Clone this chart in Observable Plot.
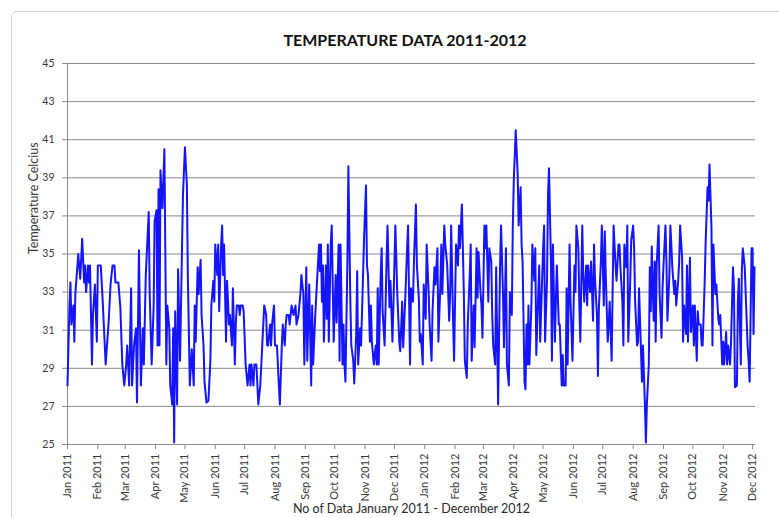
<!DOCTYPE html>
<html>
<head>
<meta charset="utf-8">
<script src="https://cdn.jsdelivr.net/npm/d3@7"></script>
<script src="https://cdn.jsdelivr.net/npm/@observablehq/plot@0.6"></script>
<style>
  body { margin: 0; background: #fff; }
  #wrap { position: relative; width: 779px; height: 518px; overflow: hidden; font-family: Lato, "Open Sans", sans-serif; }
  #frame { position: absolute; left: 11px; top: 11px; width: 820px; height: 560px; border: 1px solid #d4d4d4; border-radius: 6px; }
  #title { position: absolute; top: 30px; left: 0; width: 810px; text-align: center; font-weight: bold; font-size: 16px; color: #111; }
  #chart { position: absolute; left: 0; top: 0; }
</style>
</head>
<body>
<div id="wrap">
  <div id="frame"></div>
  <div id="title"></div>
  <div id="chart"></div>
</div>
<script>
// Day offsets (days since 1 Jan 2011) and temperatures (°C)
const daysA = [0,2,3,4,6,7,8,11,13,15,17,18,19,21,22,23,25,26,28,30,31,34,36,39,42,44,46,48,49,52,54,56,58,60,61,63,65,66,68,70,71,73,75,77,78,80,83,84,86,88,89,91,92,93,94,95,97,99,101,102,104,105,107,108,109,110,112,113];
const tempsA = [28.1,32.3,33.5,31.3,32.3,30.4,32.9,35.0,33.7,35.8,33.5,34.4,33.0,34.4,33.5,34.4,29.2,31.8,33.4,30.4,34.4,34.4,32.5,29.2,31.4,33.4,34.4,34.4,33.5,33.5,32.2,29.2,28.1,29.2,30.2,28.1,33.2,28.1,30.2,31.1,27.2,35.2,28.1,31.1,29.2,33.9,37.2,32.9,29.2,32.2,36.7,37.3,30.2,38.4,30.2,39.4,37.4,40.5,29.2,32.3,31.1,28.1,27.1,31.1,25.1,32.0,27.1,34.2];

const daysB = [115,117,118,120,122,123,125,127,129,130,131,133,134,136,137,139,140,142,144,146,147,149,150,151,153,154,155,157,158,159,160,162,163,164,165,166,168,169,171,172,173,175,176,177,179,180,182,184,186,187,188,190,191,193,195,197,199,201,203,204,205,207,208,209,211,212,214,216,217,219,220,222,223,224,226,227,229,231];
const tempsB = [29.4,35.3,38.1,40.6,38.6,33.7,28.1,30.0,28.1,32.3,30.4,34.3,32.9,34.7,31.8,30.2,28.3,27.2,27.3,29.4,32.3,33.6,32.5,35.5,33.9,35.5,32.0,35.5,36.5,33.9,35.5,30.4,33.6,32.5,31.3,31.8,30.2,33.2,29.2,31.4,32.3,32.3,31.8,32.3,32.3,32.0,29.2,28.1,29.2,28.1,29.2,28.1,29.2,29.2,27.1,28.1,30.2,32.3,31.8,30.2,30.2,31.3,30.2,31.3,32.3,30.2,30.2,28.1,27.1,30.2,31.3,30.2,31.3,31.8,31.8,31.3,32.3,31.8];

const daysC = [233,234,236,238,239,241,242,244,245,247,249,250,251,253,255,257,258,259,260,261,262,264,265,266,267,269,270,272,274,275,277,278,279,281,282,283,284,286,287,289,290,292,293,295,296,297,299,300,302,303,305,306,307,309,310,311,313,315,316,317,318,320,321,322,324,325,326,327,329,330,332,333,335,337,339,340,342,343,345,347,348,350];
const tempsC = [32.3,31.3,31.8,32.9,33.9,32.9,29.2,34.3,29.4,33.4,28.1,32.3,29.2,31.6,33.6,35.5,34.1,35.5,32.5,34.4,30.4,34.4,31.6,35.5,30.4,35.5,36.5,30.4,33.9,31.4,35.5,29.4,35.5,29.2,31.3,29.2,28.3,34.6,39.6,32.5,30.2,29.4,28.2,30.8,34.1,29.2,31.1,30.2,33.9,35.8,38.6,34.4,33.9,30.4,32.3,30.4,29.2,30.2,29.2,33.2,29.2,33.9,35.3,32.0,30.2,32.3,34.6,36.5,32.2,33.6,30.4,32.3,36.5,32.9,30.4,29.9,32.5,30.1,32.5,35.3,36.5,29.2];

const daysD = [351,353,354,356,357,359,360,361,363,364,366,367,369,370,372,373,375,376,378,379,381,382,383,385,386,388,390,391,392,394,395,397,399,400,401,403,405,406,408,409,411,412,413,415,416,418,419,420,422,423,424,426,427,428,430,431,433,434,435,437,438,440,442,443,445,446,448,449,451,452,454,455,456,458,460,461,463,464,465,467];
const tempsD = [33.2,32.5,34.6,37.6,34.4,32.7,30.4,30.8,29.2,33.4,31.6,35.5,33.0,31.3,29.4,32.0,34.3,33.4,35.3,30.4,33.4,35.5,32.9,36.5,35.5,34.4,31.5,32.9,36.5,31.5,29.4,35.5,34.4,36.5,35.3,37.6,32.9,29.4,28.5,31.3,33.9,35.5,29.4,32.3,30.1,35.3,32.7,35.1,33.0,32.3,30.6,36.5,35.3,36.5,32.5,35.3,34.6,31.8,30.2,29.2,34.3,27.1,34.4,36.5,32.9,30.1,35.3,29.2,28.1,33.0,31.8,36.4,38.8,41.5,39.2,36.5,38.5,35.5,34.6,28.3];

const daysE = [468,469,470,471,472,474,475,477,478,479,481,482,483,485,486,487,488,490,491,492,494,495,496,498,499,500,502,503,505,506,507,509,510,511,513,514,516,518,519,520,522,523,524,526,527,528,530,531,532,534,535,537,538,539,541,542,543,545,546,548,549,550,552,553,554,556,557,558,560,561,563,564,565,567,568,569,571,572,573,575,576,578,579,580,582,583,584];
const tempsE = [27.9,31.3,29.2,32.3,29.2,32.3,35.5,33.6,35.3,29.7,32.9,34.4,30.4,33.7,35.3,36.5,30.4,33.7,38.1,39.5,34.6,29.4,35.5,30.4,32.5,34.4,31.3,31.3,28.1,29.7,28.1,28.1,33.2,29.2,35.5,32.5,29.4,34.4,33.0,36.5,35.3,32.3,30.4,36.5,33.9,32.5,34.4,32.3,34.4,33.0,34.6,31.5,35.5,33.7,31.8,28.6,32.2,34.6,36.5,32.3,36.2,33.9,30.4,31.3,32.5,29.4,33.0,36.5,34.4,33.6,35.5,35.5,34.3,32.5,30.2,35.5,34.3,36.5,30.4,33.6,35.7,36.5,35.3,32.5,30.2,30.4,33.2];

const daysF = [587,588,590,591,592,594,595,596,597,598,599,600,601,602,604,605,607,608,609,611,612,613,615,616,617,618,620,621,622,624,625,626,628,629,630,632,633,634,636,637,639,640,641,643,644,645,647,648,649,651,652,654,655,656,658,659,660,662,663,665,666,667,669,670,671,673,674,675,677,678,680,681,682,684,685,686,688,689,690,692,693,695,696,697,699,700,701,702];
const tempsF = [28.3,30.2,27.1,25.1,27.1,29.2,34.3,32.0,35.4,33.2,31.5,34.6,30.4,34.4,36.5,32.9,30.6,33.2,34.4,36.5,34.6,31.5,33.9,36.5,35.5,34.3,32.9,33.6,32.3,33.6,34.6,36.5,34.8,30.4,32.3,30.8,34.4,30.4,34.8,30.9,32.3,30.2,32.3,29.4,32.0,31.3,31.3,30.2,30.2,33.4,35.5,38.5,37.8,39.7,36.4,30.2,35.5,32.9,33.4,31.6,31.3,31.8,29.2,30.4,29.2,30.9,29.2,30.2,29.2,30.4,34.3,33.2,28.0,28.1,32.5,33.7,29.2,34.1,35.3,34.3,32.9,30.1,29.4,28.3,35.3,35.3,30.8,34.3];

const monthLabels = ["Jan 2011","Feb 2011","Mar 2011","Apr 2011","May 2011","Jun 2011","Jul 2011","Aug 2011","Sep 2011","Oct 2011","Nov 2011","Dec 2011",
                     "Jan 2012","Feb 2012","Mar 2012","Apr 2012","May 2012","Jun 2012","Jul 2012","Aug 2012","Sep 2012","Oct 2012","Nov 2012","Dec 2012"];
const yTicks = [25,27,29,31,33,35,37,39,41,43,45];
const title = "TEMPERATURE DATA 2011-2012";
const yLabel = "Temperature Celcius";
const xLabel = "No of Data January 2011 - December 2012";

const base = Date.UTC(2011, 0, 1);
const toDate = d => new Date(base + d * 864e5);

const allDays = [daysA, daysB, daysC, daysD, daysE, daysF];
const allTemps = [tempsA, tempsB, tempsC, tempsD, tempsE, tempsF];
const data = [];
allDays.forEach((ds, s) => ds.forEach((d, i) => data.push({date: toDate(d), temp: allTemps[s][i]})));

const tickDates = monthLabels.map((l, i) => new Date(Date.UTC(2011, i, 1)));
const labelByTime = new Map(tickDates.map((d, i) => [+d, monthLabels[i]]));

document.getElementById("title").textContent = title;

const plot = Plot.plot({
  width: 779,
  height: 518,
  marginTop: 63,
  marginBottom: 74,
  marginLeft: 67,
  marginRight: 24,
  style: { fontFamily: "Lato, 'Open Sans', sans-serif", fontSize: "10px", color: "#3a3a3a", background: "transparent", overflow: "visible" },
  x: { type: "utc", domain: [toDate(0), toDate(703)] },
  y: { domain: [25, 45] },
  marks: [
    Plot.gridY(yTicks, { stroke: "#8a8a8a", strokeOpacity: 1, strokeWidth: 1 }),
    Plot.axisY(yTicks, { tickSize: 5, tickPadding: 8, stroke: "#8a8a8a", label: null, fontSize: 10.5 }),
    Plot.axisX(tickDates, { tickFormat: d => labelByTime.get(+d), tickRotate: -90, tickSize: 5, tickPadding: 4, stroke: "#8a8a8a", label: null, fontSize: 11 }),
    Plot.ruleY([25], { stroke: "#8a8a8a", strokeWidth: 1 }),
    Plot.ruleX([toDate(0)], { stroke: "#8a8a8a", strokeWidth: 1 }),
    Plot.line(data, { x: "date", y: "temp", stroke: "#1414ff", strokeWidth: 2, strokeLinejoin: "round" }),
    Plot.text([yLabel], { text: d => d, frameAnchor: "left", dx: -34, rotate: -90, fontSize: 12.5, fill: "#3a3a3a" }),
    Plot.text([xLabel], { text: d => d, frameAnchor: "bottom", dy: 68, fontSize: 12.5, fill: "#2a2a2a" })
  ]
});
document.getElementById("chart").appendChild(plot);
</script>
</body>
</html>
